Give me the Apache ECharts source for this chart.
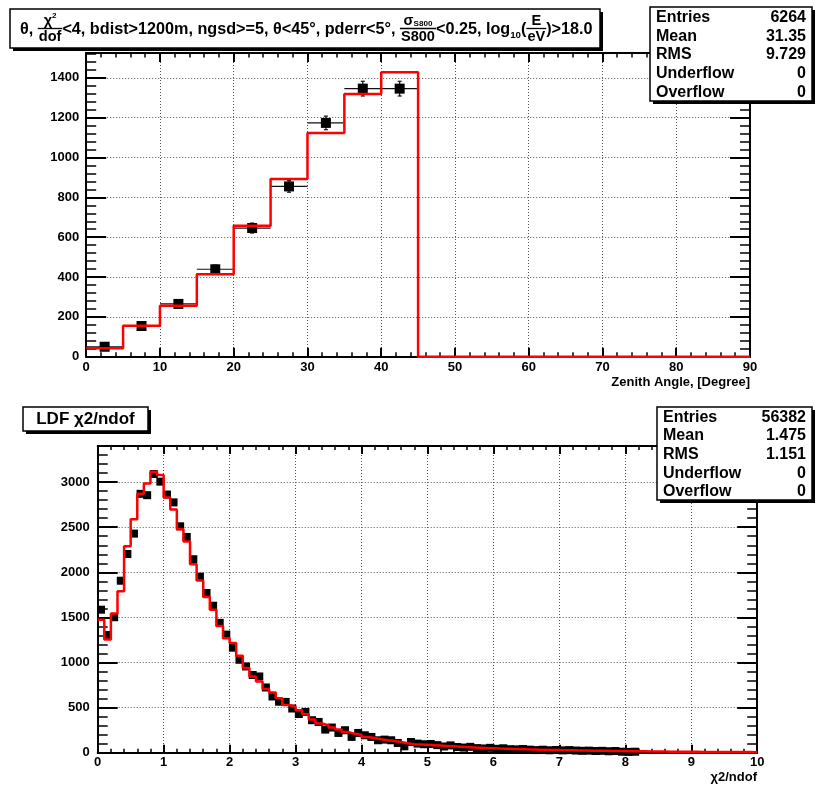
<!DOCTYPE html>
<html><head><meta charset="utf-8">
<script src="https://cdn.jsdelivr.net/npm/echarts@6/dist/echarts.min.js"></script>
<style>html,body{margin:0;padding:0;background:#fff}#c{width:816px;height:785px}</style>
</head><body><div id="c"></div>
<script>
// ---------- DATA ----------
const zenithBinWidth = 5;
const zenithBinLow = [0,5,10,15,20,25,30,35,40,45,50,55,60,65,70,75,80,85];
const zenithMC   = [42,156,256,414,657,892,1123,1319,1428,0,0,0,0,0,0,0,0,0];
const zenithData = [50,154,265,439,646,855,1174,1346,1346];
const zenithErr  = [7,12,16,21,25,29,34,37,37];

const chiBinWidth = 0.1;
const chiNBins = 100;
const chiMC = [1475,1255,1545,1790,2288,2588,2870,2985,3115,3078,
 2828,2695,2478,2343,2090,1910,1727,1586,1405,1270,
 1218,1076,939,846,791,706,669,605,530,509,
 472,427,368,324,305,280,257,231,210,200,
 176,164,150,139,131,120,106,96,92,88,
 84,80,76,72,68,63,60,57,53,50,
 47,45,43,41,38,37,35,33,31,30,
 29,28,26,25,24,23,22,21,20,19,
 18,17,16,15,14,14,13,12,12,11,
 11,10,10,9,9,9,8,8,8,7];
const chiData = [1586,1305,1502,1907,2203,2429,2870,2855,3090,3005,
 2862,2775,2510,2392,2145,1952,1771,1630,1440,1310,
 1165,1031,957,862,846,724,624,566,564,491,
 430,453,361,342,257,280,220,250,176,220,
 194,176,139,146,139,109,72,120,102,95,
 98,85,70,82,64,58,66,52,48,55,
 44,50,40,38,42,35,30,34,28,31,
 27,30,25,22,24,20,22,17,20,12,
 10,12,0,0,0,0,0,0,0,0,
 0,0,0,0,0,0,0,0,0,0];

const statLabels = ['Entries','Mean','RMS','Underflow','Overflow'];
const zenithStats = ['6264','31.35','9.729','0','0'];
const chiStats = ['56382','1.475','1.151','0','0'];
const zenithAxisTitle = 'Zenith Angle, [Degree]';
const chiAxisTitle = 'χ2/ndof';
const chiTitle = 'LDF χ2/ndof';

// ---------- HELPERS ----------
const fam = '"Liberation Sans", Arial, Helvetica, sans-serif';
const mctx = document.createElement('canvas').getContext('2d');
function tw(s, size){ mctx.font = 'bold ' + size + 'px ' + fam; return mctx.measureText(s).width; }
function txt(s, x, y, size, align, valign){
  align = align || 'left'; valign = valign || 'middle';
  return {type:'text', z:120, silent:true, style:{text:s, x:x, y:y, font:'bold '+size+'px '+fam, fill:'#000',
    align:align, textAlign:align, verticalAlign:valign, textVerticalAlign:valign}};
}
function boxWithShadow(x, y, w, h){
  return [
    {type:'rect', z:110, silent:true, shape:{x:x+3, y:y+3, width:w, height:h}, style:{fill:'#000'}},
    {type:'rect', z:111, silent:true, shape:{x:x, y:y, width:w, height:h}, style:{fill:'#fff', stroke:'#000', lineWidth:1.5}}
  ];
}
function stepPoints(lows, w, vals){
  const pts = [];
  for (let i = 0; i < vals.length; i++){ pts.push([lows[i], vals[i]]); pts.push([lows[i] + w, vals[i]]); }
  return pts;
}
function errRender(params, api){
  const x = api.value(0), y = api.value(1), ex = api.value(2), ey = api.value(3);
  const l = api.coord([x-ex, y]), r = api.coord([x+ex, y]);
  const t = api.coord([x, y+ey]), b = api.coord([x, y-ey]);
  const st = {stroke:'#111', lineWidth:1.2};
  return {type:'group', children:[
    {type:'line', shape:{x1:l[0], y1:l[1], x2:r[0], y2:r[1]}, style:st},
    {type:'line', shape:{x1:t[0], y1:t[1], x2:b[0], y2:b[1]}, style:st},
    {type:'line', shape:{x1:t[0]-2, y1:t[1], x2:t[0]+2, y2:t[1]}, style:st},
    {type:'line', shape:{x1:b[0]-2, y1:b[1], x2:b[0]+2, y2:b[1]}, style:st}
  ]};
}
function makeAxes(gi, min, max, interval, isX, tickLen, margin){
  const common = {
    type:'value', gridIndex:gi, min:min, max:max, interval:interval,
    axisLine:{show:true, onZero:false, lineStyle:{color:'#000', width:2}},
    axisTick:{show:true, inside:true, length:tickLen, lineStyle:{color:'#000', width:2}},
    minorTick:{show:true, splitNumber:5, length:tickLen/2, lineStyle:{color:'#000', width:1.5}},
    minorSplitLine:{show:false}
  };
  const a = Object.assign({}, common, {
    position: isX ? 'bottom' : 'left',
    axisLabel:{show:true, margin:margin, color:'#000', fontFamily:fam, fontWeight:'bold', fontSize:13,
      showMinLabel:true, showMaxLabel: isX, formatter: function(v){ return String(v); }},
    splitLine:{show:true, lineStyle:{color:'#555', width:1, type:[1,2]}}
  });
  const b = Object.assign({}, common, {
    position: isX ? 'top' : 'right',
    axisLabel:{show:false}, splitLine:{show:false}
  });
  return [a, b];
}

// ---------- TITLE (top) ----------
const titleSpec = [
  {k:'t', s:'θ, '},
  {k:'f', num:[['χ',0.9,'n'],['2',0.5,'sup']], den:[['dof',0.9]]},
  {k:'t', s:'<4, bdist>1200m, ngsd>=5, θ<45°, pderr<5°, '},
  {k:'f', num:[['σ',0.9,'n'],['S800',0.5,'n']], den:[['S800',0.9]]},
  {k:'t', s:'<0.25, log'},
  {k:'sub', s:'10'},
  {k:'t', s:'('},
  {k:'f', num:[['E',0.9,'n']], den:[['eV',0.9]]},
  {k:'t', s:')>18.0'}
];
function partsW(parts, F){ let w = 0; parts.forEach(p => { w += tw(p[0], p[1]*F); }); return w; }
function itemW(it, F){
  if (it.k === 't') return tw(it.s, F);
  if (it.k === 'sub') return tw(it.s, 0.6*F);
  return Math.max(partsW(it.num, F), partsW(it.den, F)) + 2;
}
function buildTitle(){
  const x0 = 20, target = 568, C = 28.5;
  let tot = 0; titleSpec.forEach(it => tot += itemW(it, 100));
  const F = 100 * target / tot;
  const els = boxWithShadow(10, 9, 590, 39);
  let x = x0;
  titleSpec.forEach(it => {
    const w = itemW(it, F);
    if (it.k === 't') els.push(txt(it.s, x, C+1.5, F));
    else if (it.k === 'sub') els.push(txt(it.s, x, C+1.5+0.3*F, 0.6*F));
    else {
      els.push({type:'line', z:120, silent:true, shape:{x1:x, y1:C, x2:x+w, y2:C}, style:{stroke:'#000', lineWidth:1.3}});
      let nx = x + (w - partsW(it.num, F))/2;
      it.num.forEach(p => {
        const sz = p[1]*F;
        if (p[2] === 'sup') els.push(txt(p[0], nx, C-1-0.45*F, sz, 'left', 'bottom'));
        else els.push(txt(p[0], nx, C-0.5, sz, 'left', 'bottom'));
        nx += tw(p[0], sz);
      });
      let dx = x + (w - partsW(it.den, F))/2;
      it.den.forEach(p => { els.push(txt(p[0], dx, C+1, p[1]*F, 'left', 'top')); dx += tw(p[0], p[1]*F); });
    }
    x += w;
  });
  return els;
}
function buildStats(x, y, w, h, vals){
  const els = boxWithShadow(x, y, w, h);
  const step = h / statLabels.length;
  statLabels.forEach((l, i) => {
    const cy = y + step*(i+0.5) + 1;
    els.push(txt(l, x+6, cy, 16));
    els.push(txt(vals[i], x+w-6, cy, 16, 'right'));
  });
  return els;
}

let graphics = [];
graphics = graphics.concat(buildTitle());
graphics = graphics.concat(buildStats(650, 7, 162, 94, zenithStats));
graphics = graphics.concat(boxWithShadow(23, 407, 125, 24));
graphics.push(txt(chiTitle, 85.5, 419.5, 17, 'center'));
graphics = graphics.concat(buildStats(657, 407, 155, 93, chiStats));
graphics.push(txt(zenithAxisTitle, 750, 382, 13, 'right'));
graphics.push(txt(chiAxisTitle, 757, 777, 13, 'right'));

// ---------- SERIES DATA ----------
const zenErrData = zenithData.map((v, i) => [zenithBinLow[i] + zenithBinWidth/2, v, zenithBinWidth/2, zenithErr[i]]);
const zenPts = zenithData.map((v, i) => [zenithBinLow[i] + zenithBinWidth/2, v]);
const chiLow = []; for (let i = 0; i < chiNBins; i++) chiLow.push(+(i*chiBinWidth).toFixed(2));
const chiPts = [];
chiData.forEach((v, i) => { if (v > 0) chiPts.push([chiLow[i] + chiBinWidth/2, v]); });

const xTop = makeAxes(0, 0, 90, 10, true, 9, 4);
const yTop = makeAxes(0, 0, 1525, 200, false, 20, 7);
const xBot = makeAxes(1, 0, 10, 1, true, 8, 3);
const yBot = makeAxes(1, 0, 3400, 500, false, 20, 8);

const option = {
  animation:false,
  backgroundColor:'#fff',
  grid:[
    {left:86.2, top:53, width:663.8, height:303.7, outerBoundsMode:'none', containLabel:false},
    {left:97.7, top:446, width:659.5, height:306.8, outerBoundsMode:'none', containLabel:false}
  ],
  xAxis:[xTop[0], xTop[1], xBot[0], xBot[1]],
  yAxis:[yTop[0], yTop[1], yBot[0], yBot[1]],
  graphic:{elements:graphics},
  series:[
    {type:'custom', xAxisIndex:0, yAxisIndex:0, renderItem:errRender, data:zenErrData, z:2, silent:true},
    {type:'scatter', xAxisIndex:0, yAxisIndex:0, data:zenPts, symbol:'rect', symbolSize:10,
      itemStyle:{color:'#000', opacity:1, borderWidth:0}, z:3, silent:true},
    {type:'line', xAxisIndex:0, yAxisIndex:0, data:stepPoints(zenithBinLow, zenithBinWidth, zenithMC), symbol:'none', clip:false,
      lineStyle:{color:'#ff0000', width:2.5}, z:4, silent:true},
    {type:'scatter', xAxisIndex:2, yAxisIndex:2, data:chiPts, symbol:'rect', symbolSize:8,
      itemStyle:{color:'#000', opacity:1, borderWidth:0}, z:3, silent:true},
    {type:'line', xAxisIndex:2, yAxisIndex:2, data:stepPoints(chiLow, chiBinWidth, chiMC), symbol:'none', clip:false,
      lineStyle:{color:'#ff0000', width:2.5}, z:4, silent:true}
  ]
};
const chart = echarts.init(document.getElementById('c'), null, {renderer:'canvas'});
chart.setOption(option);
</script>
</body></html>
